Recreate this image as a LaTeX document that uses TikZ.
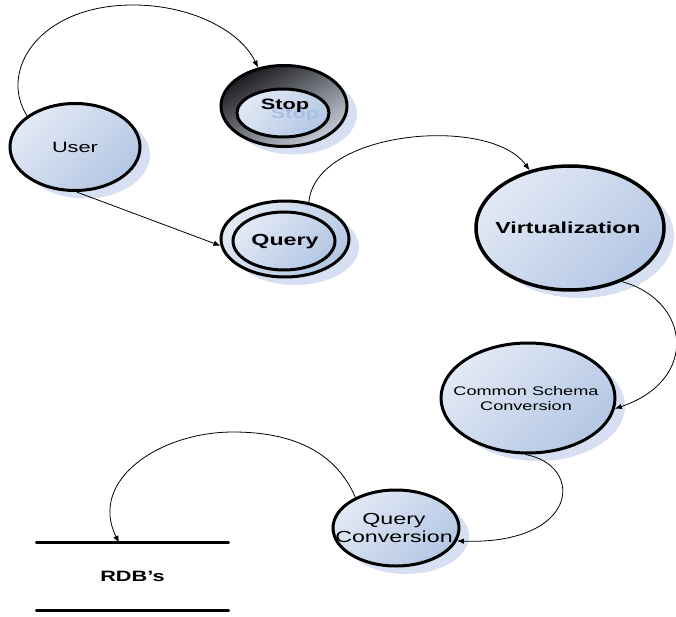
\documentclass[tikz,border=0pt]{standalone}
\usepackage{fontspec}
\newfontfamily\diagfont{Liberation Sans}[FakeStretch=1.45]
\usetikzlibrary{shapes.geometric,shadows,arrows.meta,calc}

\definecolor{fillhi}{RGB}{226,233,245}
\definecolor{filllo}{RGB}{180,199,228}
\definecolor{shadowblue}{RGB}{214,224,242}
\definecolor{ghostblue}{RGB}{168,190,230}
\definecolor{ringdark}{RGB}{26,26,30}
\definecolor{ringlight}{RGB}{200,206,218}

\begin{document}
\begin{tikzpicture}[x=1pt,y=-1pt,
  blobfill/.style={left color=fillhi, right color=filllo, shading angle=45},
  softshadow/.style={drop shadow={shadow xshift=10pt, shadow yshift=-8pt,
      fill=shadowblue, opacity=1}},
  blob/.style={ellipse, draw=black, line width=3pt, inner sep=0pt,
      blobfill, softshadow},
  innerblob/.style={ellipse, draw=black, line width=3pt, inner sep=0pt, blobfill},
  ringblob/.style={ellipse, draw=black, line width=3pt, inner sep=0pt,
      left color=ringdark, right color=ringlight, shading angle=30, softshadow},
  lbl/.style={font=\diagfont\fontsize{15}{18}\selectfont, inner sep=0pt, align=center},
  blbl/.style={lbl, font=\diagfont\bfseries\fontsize{15}{18}\selectfont},
  flow/.style={draw=black, line width=0.8pt, -{Latex[length=7pt,width=5.5pt]}},
  store/.style={line width=3pt, line cap=round}
]
\useasboundingbox (0,0) rectangle (676,617);

% processes
\node[blob, minimum width=130pt, minimum height=87pt] (user) at (75,147) {};
\node[lbl] (user-t) at (user) {User};

\node[ringblob, minimum width=126pt, minimum height=81pt] (stop) at (284,106) {};
\node[innerblob, minimum width=92pt, minimum height=48pt] (stop-in) at (283,113) {};
\node[blbl, text=ghostblue] (stop-ghost) at (295,115) {Stop};
\node[blbl] (stop-t) at (285,106) {Stop};

\node[blob, minimum width=128pt, minimum height=76pt] (query) at (285,239) {};
\node[innerblob, minimum width=102pt, minimum height=58pt] (query-in) at (284,241) {};
\node[blbl, font=\diagfont\bfseries\fontsize{16}{19}\selectfont] (query-t) at (285,242) {Query};

\node[blob, line width=3.5pt, minimum width=188pt, minimum height=124pt] (virt) at (570,228) {};
\node[blbl, font=\diagfont\bfseries\fontsize{16}{19}\selectfont] (virt-t) at (568,228) {Virtualization};

\node[blob, minimum width=174pt, minimum height=110pt] (csc) at (528,398) {};
\node[lbl, font=\diagfont\fontsize{12.5}{15}\selectfont] (csc-t) at (526,399) {Common Schema\\Conversion};

\node[blob, minimum width=126pt, minimum height=76pt] (qc) at (396,528) {};
\node[lbl, font=\diagfont\fontsize{16}{18}\selectfont] (qc-t) at (394,528) {Query\\Conversion};

% data store
\node[blbl] (rdb) at (132.5,576.5) [minimum width=192pt, minimum height=67pt] {RDB’s};
\draw[store] (rdb.north west) -- (rdb.north east);
\draw[store] (rdb.south west) -- (rdb.south east);
\coordinate (rdb-in) at ($(rdb.north west)!0.43!(rdb.north east)$);

% flows
\draw[flow] (user.147) .. controls (-2,70) and (40,5) .. (133,5)
            .. controls (190,5) and (240,30) .. (stop.124);
\draw[flow] (user.-88) -- (query.186);
\draw[flow] (query.57) .. controls (315,130) and (490,115) .. (virt.125);
\draw[flow] (virt.-46) .. controls (690,300) and (700,380) .. (csc.-7);
\draw[flow] (csc.-93) .. controls (585,465) and (580,545) .. (qc.-12);
\draw[flow] (qc.143) .. controls (335,450) and (290,432) .. (233,432)
            .. controls (160,432) and (88,480) .. (rdb-in);
\end{tikzpicture}
\end{document}
